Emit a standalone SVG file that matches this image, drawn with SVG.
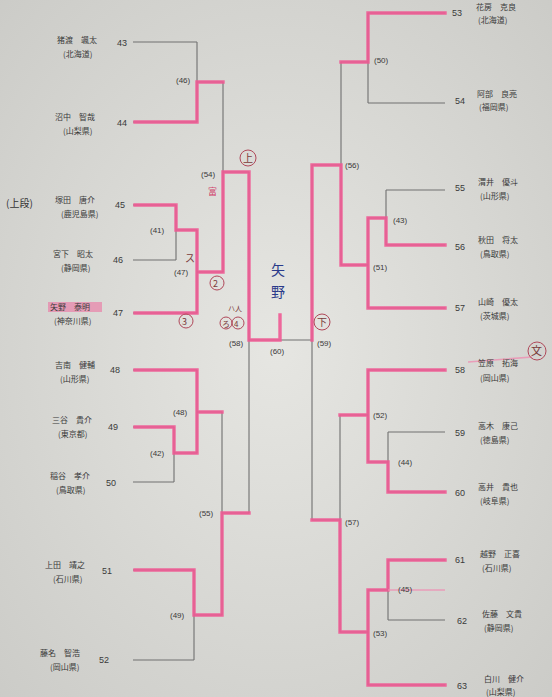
<svg xmlns="http://www.w3.org/2000/svg" width="552" height="697" viewBox="0 0 552 697">
<defs>
<radialGradient id="bg" cx="0.5" cy="0.5" r="0.75">
<stop offset="0" stop-color="#e6e6e2"/>
<stop offset="1" stop-color="#cacac6"/>
</radialGradient>
<style>
.g{fill:none;stroke:#707070;stroke-width:1.1}
.p{fill:none;stroke:#ee5a93;stroke-width:3.4;stroke-linecap:square;opacity:0.9}
.pf{fill:none;stroke:#ee8fb2;stroke-width:1.5;opacity:0.8}
.n{font-family:"Liberation Sans","Noto Sans",sans-serif;font-size:9px;fill:#3a3a3a}
.nm{font-family:"Noto Sans CJK JP","Noto Sans",sans-serif;font-size:8px;fill:#3a3a3a}
.m{font-family:"Liberation Sans","Noto Sans",sans-serif;font-size:8px;fill:#3a3a3a}
.hw{font-family:"Noto Sans CJK JP",sans-serif;fill:#7a3a3a}
.hb{font-family:"Noto Sans CJK JP",sans-serif;fill:#2a3a8a}
.hk{font-family:"Noto Sans CJK JP",sans-serif;fill:#333333}
.hp{font-family:"Noto Sans CJK JP",sans-serif;fill:#d0406a}
.c{fill:none;stroke:#b0485a;stroke-width:1}
</style>
</defs>
<rect width="552" height="697" fill="url(#bg)"/>

<g id="connectors">
<path class="g" d="M133,42H197M133,122H197M197,42V122M197,82H223
M133,205H176M133,260H176M176,205V260M176,230H197
M133,313H197M197,230V313M197,272H223
M223,82V272M223,172H249
M133,370H197M133,427H174M133,482H174M174,427V482M174,453H197M197,370V453M197,412H222
M133,570H194M133,660H194M194,570V660M194,615H222
M222,412V615M222,513H249
M249,172V513M249,340H280M280,340H312
M368,13H445M368,103H445M368,13V103M368,62H341
M386,190H445M386,245H445M386,190V245M386,218H368
M368,308H445M368,218V308M368,265H341
M341,62V265M341,165H312
M368,370H445M388,432H445M388,492H445M388,432V492M388,462H368M368,370V462M368,415H340
M388,560H445M388,620H445M388,560V620M388,590H368M368,685H445M368,590V685M368,632H340
M340,415V632M340,520H312M312,165V520"/>
<path class="p" d="M135,122H197V82H223
M135,205H176V230H197
M135,313H197V230M197,272H223V172H249V340H280V315
M135,370H197V453M197,412H222
M135,427H174V453H197
M135,570H194V615H222V513H249
M368,13H445M368,13V62H341
M386,245H445M386,245V218H368
M368,308H445M368,218V308M368,265H341V165H312V340
M368,370H445M368,370V462M388,492H445M388,492V462H368M368,415H340
M388,560H445M388,560V590H368M368,685H445M368,590V685M368,632H340V520H312"/>
<path class="pf" d="M388,590H445M468,362L532,357"/>
<rect x="48" y="302" width="54" height="10" fill="#ee6a9c" opacity="0.55"/>
</g>

<g id="labels">
<text class="m" x="176" y="83">(46)</text>
<text class="m" x="150" y="233">(41)</text>
<text class="m" x="174" y="275">(47)</text>
<text class="m" x="201" y="177">(54)</text>
<text class="m" x="173" y="415">(48)</text>
<text class="m" x="150" y="456">(42)</text>
<text class="m" x="199" y="516">(55)</text>
<text class="m" x="170" y="618">(49)</text>
<text class="m" x="229" y="346">(58)</text>
<text class="m" x="270" y="354">(60)</text>
<text class="m" x="317" y="346">(59)</text>
<text class="m" x="374" y="63">(50)</text>
<text class="m" x="345" y="168">(56)</text>
<text class="m" x="393" y="223">(43)</text>
<text class="m" x="373" y="270">(51)</text>
<text class="m" x="373" y="418">(52)</text>
<text class="m" x="398" y="465">(44)</text>
<text class="m" x="345" y="525">(57)</text>
<text class="m" x="398" y="592">(45)</text>
<text class="m" x="373" y="636">(53)</text>
</g>

<g id="e43"><text class="n" x="117" y="46">43</text><text class="nm" x="57" y="43">猪渡　颯太</text><text class="nm" x="63" y="57">(北海道)</text></g>
<g id="e44"><text class="n" x="117" y="126">44</text><text class="nm" x="55" y="120">沼中　智哉</text><text class="nm" x="63" y="134">(山梨県)</text></g>
<g id="e45"><text class="n" x="115" y="208">45</text><text class="nm" x="55" y="203">塚田　唐介</text><text class="nm" x="61" y="217">(鹿児島県)</text></g>
<g id="e46"><text class="n" x="113" y="263">46</text><text class="nm" x="53" y="257">宮下　昭太</text><text class="nm" x="61" y="271">(静岡県)</text></g>
<g id="e47"><text class="n" x="113" y="316">47</text><text class="nm" x="50" y="310">矢野　泰明</text><text class="nm" x="54" y="324">(神奈川県)</text></g>
<g id="e48"><text class="n" x="110" y="373">48</text><text class="nm" x="55" y="368">吉南　健輔</text><text class="nm" x="60" y="382">(山形県)</text></g>
<g id="e49"><text class="n" x="108" y="430">49</text><text class="nm" x="52" y="423">三谷　貴介</text><text class="nm" x="58" y="437">(東京都)</text></g>
<g id="e50"><text class="n" x="106" y="486">50</text><text class="nm" x="50" y="479">稲谷　孝介</text><text class="nm" x="56" y="493">(鳥取県)</text></g>
<g id="e51"><text class="n" x="102" y="574">51</text><text class="nm" x="45" y="568">上田　靖之</text><text class="nm" x="53" y="582">(石川県)</text></g>
<g id="e52"><text class="n" x="99" y="663">52</text><text class="nm" x="40" y="656">藤名　智浩</text><text class="nm" x="50" y="670">(岡山県)</text></g>

<g id="e53"><text class="n" x="452" y="16">53</text><text class="nm" x="476" y="10">花房　克良</text><text class="nm" x="478" y="23">(北海道)</text></g>
<g id="e54"><text class="n" x="455" y="104">54</text><text class="nm" x="477" y="97">阿部　良亮</text><text class="nm" x="479" y="110">(福岡県)</text></g>
<g id="e55"><text class="n" x="455" y="191">55</text><text class="nm" x="478" y="185">渭井　優斗</text><text class="nm" x="480" y="199">(山形県)</text></g>
<g id="e56"><text class="n" x="455" y="250">56</text><text class="nm" x="478" y="243">秋田　将太</text><text class="nm" x="480" y="257">(鳥取県)</text></g>
<g id="e57"><text class="n" x="455" y="311">57</text><text class="nm" x="478" y="305">山崎　優太</text><text class="nm" x="480" y="319">(茨城県)</text></g>
<g id="e58"><text class="n" x="455" y="373">58</text><text class="nm" x="478" y="366">笠原　拓海</text><text class="nm" x="480" y="381">(岡山県)</text></g>
<g id="e59"><text class="n" x="455" y="436">59</text><text class="nm" x="478" y="429">高木　康己</text><text class="nm" x="480" y="443">(徳島県)</text></g>
<g id="e60"><text class="n" x="455" y="496">60</text><text class="nm" x="478" y="490">高井　貴也</text><text class="nm" x="480" y="504">(岐阜県)</text></g>
<g id="e61"><text class="n" x="455" y="563">61</text><text class="nm" x="480" y="557">越野　正喜</text><text class="nm" x="482" y="571">(石川県)</text></g>
<g id="e62"><text class="n" x="457" y="624">62</text><text class="nm" x="482" y="617">佐藤　文貴</text><text class="nm" x="484" y="631">(静岡県)</text></g>
<g id="e63"><text class="n" x="457" y="689">63</text><text class="nm" x="484" y="682">白川　健介</text><text class="nm" x="486" y="695">(山梨県)</text></g>

<g id="handwriting">
<text class="hk" x="6" y="207" font-size="10">(上段)</text>
<circle class="c" cx="248" cy="158" r="8"/><text class="hw" x="243" y="162" font-size="10">上</text>
<text class="hp" x="208" y="195" font-size="9">富</text>
<text class="hw" x="185" y="262" font-size="10">ス</text>
<circle class="c" cx="217" cy="283" r="7"/><text class="hw" x="213" y="287" font-size="9">2</text>
<circle class="c" cx="186" cy="321" r="7"/><text class="hw" x="182" y="325" font-size="9">3</text>
<text class="hw" x="228" y="311" font-size="7">ハ人</text>
<circle class="c" cx="226" cy="323" r="6"/><text class="hw" x="222" y="327" font-size="8">ろ</text>
<circle class="c" cx="238" cy="323" r="6"/><text class="hw" x="234" y="327" font-size="8">4</text>
<text class="hb" x="271" y="275" font-size="14">矢</text>
<text class="hb" x="271" y="297" font-size="14">野</text>
<circle class="c" cx="322" cy="322" r="8"/><text class="hw" x="317" y="326" font-size="10">下</text>
<circle class="c" cx="537" cy="351" r="9"/><text class="hw" x="531" y="355" font-size="11">文</text>
</g>
</svg>
